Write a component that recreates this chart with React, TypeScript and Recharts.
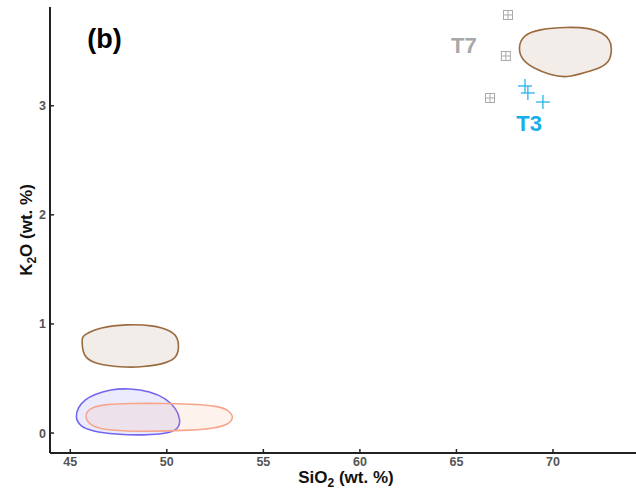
import React from 'react';
import { ScatterChart, Scatter, XAxis, YAxis, ReferenceDot } from 'recharts';

// Field outlines (SiO2, K2O)
const brownUpper = [
  { x: 68.44, y: 3.649 }, { x: 69.33, y: 3.704 }, { x: 70.72, y: 3.722 }, { x: 71.91, y: 3.713 },
  { x: 72.59, y: 3.667 }, { x: 72.95, y: 3.603 }, { x: 73.06, y: 3.53 }, { x: 72.95, y: 3.401 },
  { x: 72.43, y: 3.346 }, { x: 71.76, y: 3.309 }, { x: 70.72, y: 3.254 }, { x: 69.84, y: 3.282 },
  { x: 68.96, y: 3.346 }, { x: 68.39, y: 3.419 }, { x: 68.19, y: 3.529 },
];
const brownLower = [
  { x: 45.66, y: 0.896 }, { x: 46.54, y: 0.97 }, { x: 47.94, y: 0.997 }, { x: 49.28, y: 0.988 },
  { x: 50.16, y: 0.942 }, { x: 50.58, y: 0.878 }, { x: 50.63, y: 0.786 }, { x: 50.53, y: 0.695 },
  { x: 50.01, y: 0.64 }, { x: 48.77, y: 0.603 }, { x: 47.58, y: 0.603 }, { x: 46.38, y: 0.631 },
  { x: 45.76, y: 0.686 }, { x: 45.61, y: 0.786 }, { x: 45.61, y: 0.869 },
];
const blueField = [
  { x: 46.28, y: 0.355 }, { x: 47.06, y: 0.401 }, { x: 48.09, y: 0.41 }, { x: 49.13, y: 0.383 },
  { x: 49.96, y: 0.318 }, { x: 50.48, y: 0.227 }, { x: 50.73, y: 0.117 }, { x: 50.58, y: 0.034 },
  { x: 50.06, y: -0.003 }, { x: 48.87, y: -0.021 }, { x: 47.32, y: -0.012 }, { x: 46.13, y: 0.016 },
  { x: 45.5, y: 0.061 }, { x: 45.25, y: 0.144 }, { x: 45.4, y: 0.236 }, { x: 45.76, y: 0.309 },
];
const salmonField = [
  { x: 46.13, y: 0.236 }, { x: 46.8, y: 0.263 }, { x: 48.09, y: 0.272 }, { x: 50.01, y: 0.272 },
  { x: 51.72, y: 0.263 }, { x: 52.65, y: 0.245 }, { x: 53.22, y: 0.208 }, { x: 53.48, y: 0.144 },
  { x: 53.22, y: 0.08 }, { x: 52.5, y: 0.043 }, { x: 51.2, y: 0.025 }, { x: 49.65, y: 0.016 },
  { x: 47.83, y: 0.016 }, { x: 46.54, y: 0.034 }, { x: 45.97, y: 0.08 }, { x: 45.76, y: 0.144 },
  { x: 45.87, y: 0.199 },
];

// Samples
const t7Points = [
  { x: 67.67, y: 3.832 }, { x: 67.56, y: 3.456 }, { x: 66.74, y: 3.071 },
];
const t3Points = [
  { x: 68.55, y: 3.181 }, { x: 68.7, y: 3.117 }, { x: 69.48, y: 3.034 },
];

const xTicks = [45, 50, 55, 60, 65, 70];
const yTicks = [0, 1, 2, 3];

const FONT = '"Liberation Sans", Arial, sans-serif';

const Nothing = () => <g />;

const T7Shape = (p: any) => {
  const { cx, cy } = p;
  const s = 4.5;
  return (
    <g stroke="#a9a9a9" strokeWidth={1} fill="none">
      <rect x={cx - s} y={cy - s} width={2 * s} height={2 * s} />
      <line x1={cx - s} x2={cx + s} y1={cy} y2={cy} />
      <line x1={cx} x2={cx} y1={cy - s} y2={cy + s} />
    </g>
  );
};

const T3Shape = (p: any) => {
  const { cx, cy } = p;
  const s = 7;
  return (
    <g stroke="#2ab2ec" strokeWidth={1.3}>
      <line x1={cx - s} x2={cx + s} y1={cy} y2={cy} />
      <line x1={cx} x2={cx} y1={cy - s} y2={cy + s} />
    </g>
  );
};

const XTick = (p: any) => {
  const { x, y, payload } = p;
  return (
    <g>
      <line x1={x} x2={x} y1={y} y2={y - 4} stroke="#222" strokeWidth={1.5} />
      <text x={x} y={y + 13} textAnchor="middle" fill="#555" fontSize={12.5} fontWeight="bold" fontFamily={FONT}>
        {payload.value}
      </text>
    </g>
  );
};

const YTick = (p: any) => {
  const { x, y, payload } = p;
  return (
    <g>
      <line x1={x} x2={x + 4} y1={y} y2={y} stroke="#222" strokeWidth={1.5} />
      <text x={x - 4} y={y + 4.5} textAnchor="end" fill="#555" fontSize={12.5} fontWeight="bold" fontFamily={FONT}>
        {payload.value}
      </text>
    </g>
  );
};

const XTitle = (p: any) => {
  const vb = p.viewBox || { x: 50, y: 453, width: 586, height: 41 };
  const cx = vb.x + vb.width / 2 + 3;
  return (
    <text x={cx} y={vb.y + 30} textAnchor="middle" fill="#111" fontSize={17} fontWeight="bold" fontFamily={FONT}>
      SiO<tspan fontSize={12} dy={4}>2</tspan>
      <tspan dy={-4}> (wt. %)</tspan>
    </text>
  );
};

const YTitle = (p: any) => {
  const vb = p.viewBox || { x: 0, y: 7, width: 50, height: 446 };
  const cy = vb.y + vb.height / 2;
  const bx = 32;
  return (
    <text x={bx} y={cy} transform={`rotate(-90 ${bx} ${cy})`} textAnchor="middle" fill="#111" fontSize={17} fontWeight="bold" fontFamily={FONT}>
      K<tspan fontSize={12} dy={4}>2</tspan>
      <tspan dy={-4}>O (wt. %)</tspan>
    </text>
  );
};

export default function App() {
  return (
    <div style={{ position: 'absolute', left: 0, top: 0, background: '#fff' }}>
      <ScatterChart width={636} height={494} margin={{ top: 7, right: 0, bottom: 0, left: 0 }}>
        <XAxis
          type="number"
          dataKey="x"
          domain={[43.95, 74.3]}
          ticks={xTicks}
          allowDataOverflow
          height={41}
          tickSize={0}
          tickMargin={0}
          tickLine={false}
          tick={<XTick />}
          axisLine={{ stroke: '#222', strokeWidth: 2 }}
          label={<XTitle />}
          interval={0}
        />
        <YAxis
          type="number"
          dataKey="y"
          domain={[-0.183, 3.905]}
          ticks={yTicks}
          allowDataOverflow
          width={50}
          tickSize={0}
          tickMargin={0}
          tickLine={false}
          tick={<YTick />}
          axisLine={{ stroke: '#222', strokeWidth: 2 }}
          label={<YTitle />}
          interval={0}
        />
        <Scatter
          data={brownUpper}
          shape={Nothing}
          line={{ stroke: '#9b6b40', strokeWidth: 1.6, fill: '#f2ede9' }}
          lineJointType="basisClosed"
          isAnimationActive={false}
        />
        <Scatter
          data={brownLower}
          shape={Nothing}
          line={{ stroke: '#9b6b40', strokeWidth: 1.6, fill: '#f2ede9' }}
          lineJointType="basisClosed"
          isAnimationActive={false}
        />
        <Scatter
          data={blueField}
          shape={Nothing}
          line={{ stroke: '#7366ee', strokeWidth: 1.6, fill: 'rgba(120,110,240,0.14)' }}
          lineJointType="basisClosed"
          isAnimationActive={false}
        />
        <Scatter
          data={salmonField}
          shape={Nothing}
          line={{ stroke: '#f7a68c', strokeWidth: 1.6, fill: 'rgba(250,165,135,0.15)' }}
          lineJointType="basisClosed"
          isAnimationActive={false}
        />
        <Scatter data={t7Points} shape={T7Shape} isAnimationActive={false} />
        <Scatter data={t3Points} shape={T3Shape} isAnimationActive={false} />
        <ReferenceDot
          x={46.77}
          y={3.621}
          r={0}
          fill="none"
          stroke="none"
          label={{ value: '(b)', position: 'center', fill: '#000', fontSize: 27, fontWeight: 'bold', fontFamily: FONT }}
        />
        <ReferenceDot
          x={65.39}
          y={3.557}
          r={0}
          fill="none"
          stroke="none"
          label={{ value: 'T7', position: 'center', fill: '#a8a8a8', fontSize: 22, fontWeight: 'bold', fontFamily: FONT }}
        />
        <ReferenceDot
          x={68.76}
          y={2.841}
          r={0}
          fill="none"
          stroke="none"
          label={{ value: 'T3', position: 'center', fill: '#18aee9', fontSize: 22, fontWeight: 'bold', fontFamily: FONT }}
        />
      </ScatterChart>
    </div>
  );
}
